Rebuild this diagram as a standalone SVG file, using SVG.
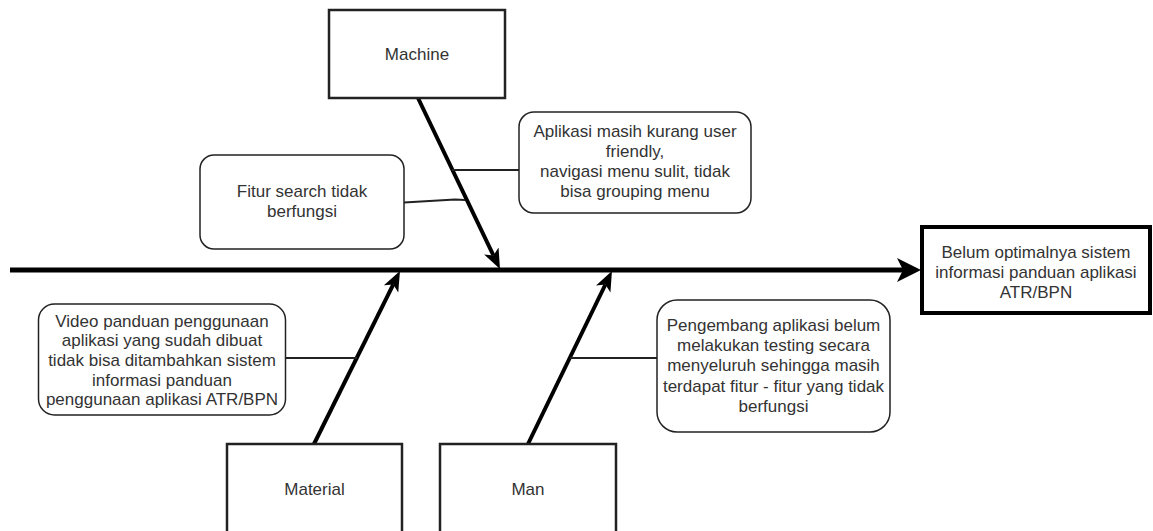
<svg xmlns="http://www.w3.org/2000/svg" width="1153" height="531" viewBox="0 0 1153 531">
<defs>
<style>
.lbl{font-family:"Liberation Sans",Arial,Helvetica,sans-serif;font-size:17px;fill:#333;text-anchor:middle}
.cat{fill:#fff;stroke:#222;stroke-width:2.5}
.note{fill:#fff;stroke:#222;stroke-width:1.5}
.res{fill:#fff;stroke:#000;stroke-width:4}
.bone{fill:none;stroke:#000;stroke-width:4}
.spine{fill:none;stroke:#000;stroke-width:5}
.link{fill:none;stroke:#222;stroke-width:1.8}
</style>
<marker id="ah" markerUnits="userSpaceOnUse" viewBox="0 -9 20 18" markerWidth="20" markerHeight="18" refX="5" refY="0" orient="auto">
<path d="M0,-8 L20,0 L0,8 L5,0 Z" fill="#000"/>
</marker>
<marker id="ahm" markerUnits="userSpaceOnUse" viewBox="0 -12 24 24" markerWidth="24" markerHeight="24" refX="6" refY="0" orient="auto">
<path d="M0,-12 L24,0 L0,12 L6,0 Z" fill="#000"/>
</marker>
</defs>
<rect width="1153" height="531" fill="#fff"/>
<g id="connectors">
<line class="spine" x1="10" y1="270" x2="903" y2="270" marker-end="url(#ahm)"/>
<line class="bone" x1="418" y1="98" x2="493.5" y2="255.5" marker-end="url(#ah)"/>
<line class="bone" x1="314" y1="444" x2="393.3" y2="284.4" marker-end="url(#ah)"/>
<line class="bone" x1="528" y1="444" x2="605.4" y2="284.5" marker-end="url(#ah)"/>
<polyline class="link" points="404,202.5 455,199.5 465,200"/>
<line class="link" x1="452" y1="170" x2="519" y2="170"/>
<line class="link" x1="285" y1="358" x2="357" y2="358"/>
<line class="link" x1="570" y1="358" x2="657" y2="358"/>
</g>
<g id="machine">
<rect class="cat" x="329" y="10" width="176" height="88"/>
<text class="lbl" x="417" y="59.5">Machine</text>
</g>
<g id="material">
<rect class="cat" x="227" y="444" width="175" height="92"/>
<text class="lbl" x="314.5" y="495">Material</text>
</g>
<g id="man">
<rect class="cat" x="440" y="444" width="176" height="92"/>
<text class="lbl" x="528" y="495">Man</text>
</g>
<g id="fitur">
<rect class="note" x="200" y="155" width="204" height="94" rx="14" ry="14"/>
<text class="lbl" x="302" y="196.5">Fitur search tidak</text>
<text class="lbl" x="302" y="216.5">berfungsi</text>
</g>
<g id="aplikasi">
<rect class="note" x="519" y="112" width="232" height="101" rx="15" ry="15"/>
<text class="lbl" x="635" y="136.5">Aplikasi masih kurang user</text>
<text class="lbl" x="635" y="156.5">friendly,</text>
<text class="lbl" x="635" y="176.5">navigasi menu sulit, tidak</text>
<text class="lbl" x="635" y="196.5">bisa grouping menu</text>
</g>
<g id="video">
<rect class="note" x="38.5" y="304" width="247" height="111" rx="16" ry="16"/>
<text class="lbl" x="162" y="326.5">Video panduan penggunaan</text>
<text class="lbl" x="162" y="346">aplikasi yang sudah dibuat</text>
<text class="lbl" x="162" y="366">tidak bisa ditambahkan sistem</text>
<text class="lbl" x="162" y="385.5">informasi panduan</text>
<text class="lbl" x="162" y="405">penggunaan aplikasi ATR/BPN</text>
</g>
<g id="pengembang">
<rect class="note" x="657" y="300" width="233" height="132" rx="20" ry="20"/>
<text class="lbl" x="773.5" y="330.5">Pengembang aplikasi belum</text>
<text class="lbl" x="773.5" y="351">melakukan testing secara</text>
<text class="lbl" x="773.5" y="371">menyeluruh sehingga masih</text>
<text class="lbl" x="773.5" y="391.5">terdapat fitur - fitur yang tidak</text>
<text class="lbl" x="773.5" y="411.5">berfungsi</text>
</g>
<g id="result">
<rect class="res" x="922" y="227" width="228" height="86"/>
<text class="lbl" x="1036" y="257.5">Belum optimalnya sistem</text>
<text class="lbl" x="1036" y="277.5">informasi panduan aplikasi</text>
<text class="lbl" x="1036" y="297.5">ATR/BPN</text>
</g>
</svg>
